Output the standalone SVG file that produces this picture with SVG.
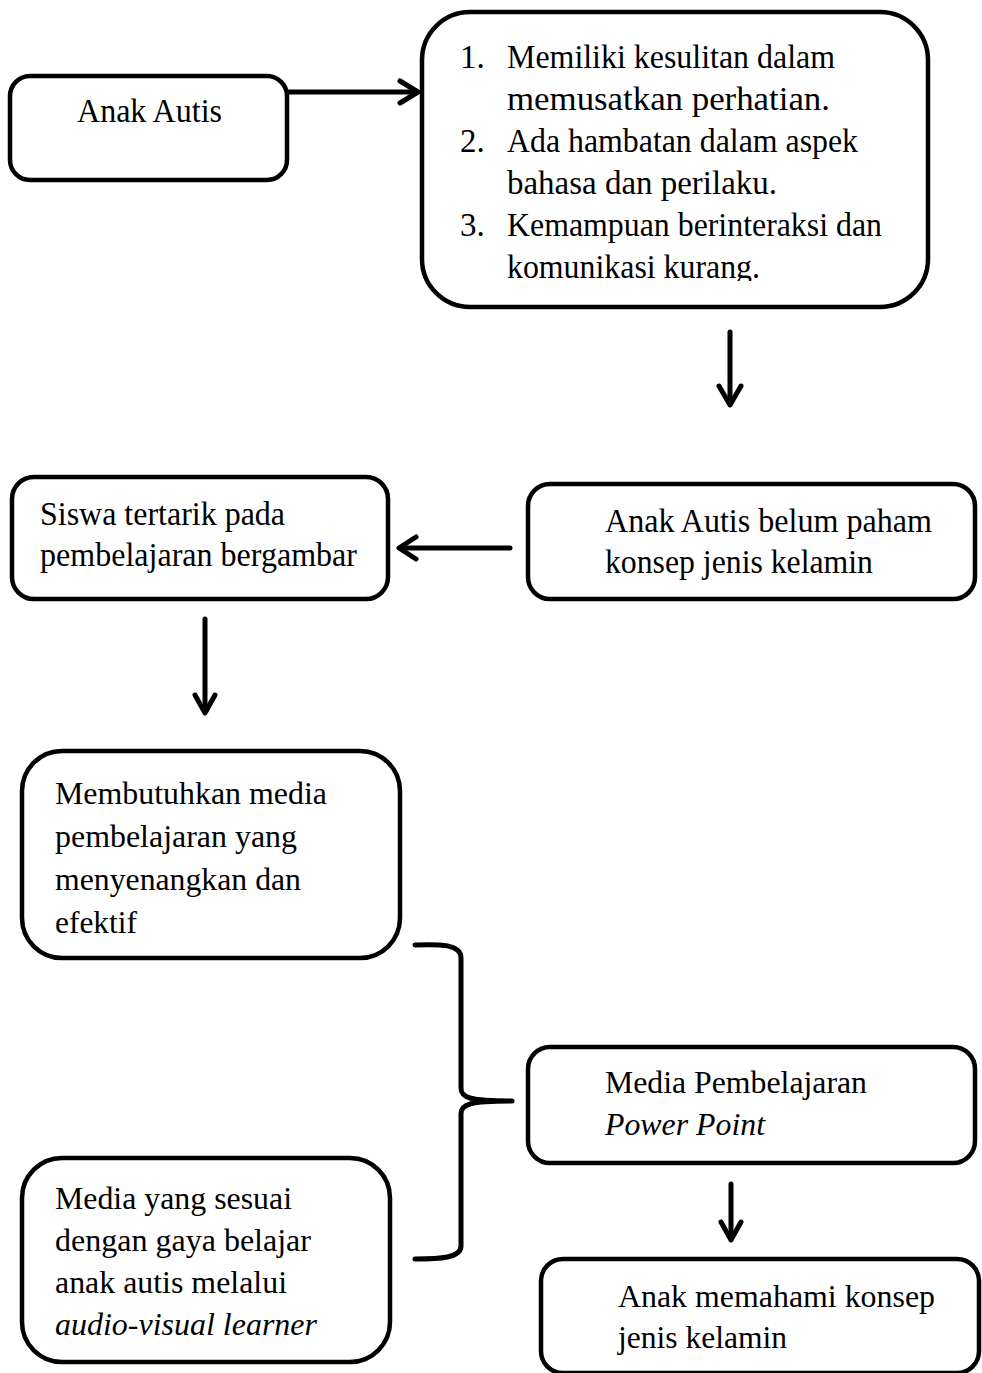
<svg xmlns="http://www.w3.org/2000/svg" width="982" height="1373" viewBox="0 0 982 1373">
<style>
.box{fill:#fff;stroke:#000;stroke-width:4.5}
.c{fill:none;stroke:#000;stroke-width:5;stroke-linecap:round;stroke-linejoin:round}
text{fill:#000}
.t{font-size:33px}
.b{font-size:31px}
.i{font-style:italic}
</style>
<defs>
<clipPath id="clip2"><rect x="420" y="0" width="520" height="281"/></clipPath>
</defs>
<rect width="982" height="1373" fill="#fff"/>
<g id="connectors">
<line class="c" x1="288" y1="92" x2="416" y2="92"/>
<path class="c" d="M400,81 L418,92 L400,103"/>
<line class="c" x1="730" y1="332" x2="730" y2="403"/>
<path class="c" d="M719,386 L730,405 L741,386"/>
<line class="c" x1="510" y1="548" x2="401" y2="548"/>
<path class="c" d="M416,537 L399,548 L416,559"/>
<line class="c" x1="205" y1="619" x2="205" y2="711"/>
<path class="c" d="M195,695 L205,713 L215,695"/>
<path class="c" d="M415,945 C440,944 461,944 461,958 L461,1088 C461,1098 470,1101 512,1101 C470,1101 461,1104 461,1114 L461,1246 C461,1258 440,1259 415,1259"/>
<line class="c" x1="731" y1="1184" x2="731" y2="1238"/>
<path class="c" d="M721,1222 L731,1240 L741,1222"/>
</g>
<g font-family="Liberation Serif, Times New Roman, Tinos, serif">
<g id="n1">
<rect class="box" x="10" y="76" width="277" height="104" rx="20"/>
<text class="t" x="77" y="122" textLength="145" lengthAdjust="spacingAndGlyphs">Anak Autis</text>
</g>
<g id="n2">
<rect class="box" x="422" y="12" width="506" height="295" rx="48"/>
<g clip-path="url(#clip2)">
<text class="t" x="460" y="68">1.</text>
<text class="t" x="507" y="68" textLength="328" lengthAdjust="spacingAndGlyphs">Memiliki kesulitan dalam</text>
<text class="t" x="507" y="110" textLength="323" lengthAdjust="spacingAndGlyphs">memusatkan perhatian.</text>
<text class="t" x="460" y="152">2.</text>
<text class="t" x="507" y="152" textLength="351" lengthAdjust="spacingAndGlyphs">Ada hambatan dalam aspek</text>
<text class="t" x="507" y="194" textLength="270" lengthAdjust="spacingAndGlyphs">bahasa dan perilaku.</text>
<text class="t" x="460" y="236">3.</text>
<text class="t" x="507" y="236" textLength="375" lengthAdjust="spacingAndGlyphs">Kemampuan berinteraksi dan</text>
<text class="t" x="507" y="278" textLength="253" lengthAdjust="spacingAndGlyphs">komunikasi kurang.</text>
</g>
</g>
<g id="n3">
<rect class="box" x="528" y="484" width="447" height="115" rx="22"/>
<text class="t" x="605" y="532" textLength="327" lengthAdjust="spacingAndGlyphs">Anak Autis belum paham</text>
<text class="t" x="605" y="573" textLength="268" lengthAdjust="spacingAndGlyphs">konsep jenis kelamin</text>
</g>
<g id="n4">
<rect class="box" x="12" y="477" width="376" height="122" rx="22"/>
<text class="t" x="40" y="525" textLength="245" lengthAdjust="spacingAndGlyphs">Siswa tertarik pada</text>
<text class="t" x="40" y="566" textLength="317" lengthAdjust="spacingAndGlyphs">pembelajaran bergambar</text>
</g>
<g id="n5">
<rect class="box" x="22" y="751" width="378" height="207" rx="40"/>
<text class="b" x="55" y="804" textLength="272" lengthAdjust="spacingAndGlyphs">Membutuhkan media</text>
<text class="b" x="55" y="847" textLength="242" lengthAdjust="spacingAndGlyphs">pembelajaran yang</text>
<text class="b" x="55" y="890" textLength="246" lengthAdjust="spacingAndGlyphs">menyenangkan dan</text>
<text class="b" x="55" y="933" textLength="82" lengthAdjust="spacingAndGlyphs">efektif</text>
</g>
<g id="n6">
<rect class="box" x="22" y="1158" width="368" height="204" rx="40"/>
<text class="b" x="55" y="1209" textLength="237" lengthAdjust="spacingAndGlyphs">Media yang sesuai</text>
<text class="b" x="55" y="1251" textLength="256" lengthAdjust="spacingAndGlyphs">dengan gaya belajar</text>
<text class="b" x="55" y="1293" textLength="232" lengthAdjust="spacingAndGlyphs">anak autis melalui</text>
<text class="b i" x="55" y="1335" textLength="262" lengthAdjust="spacingAndGlyphs">audio-visual learner</text>
</g>
<g id="n7">
<rect class="box" x="528" y="1047" width="447" height="116" rx="22"/>
<text class="b" x="605" y="1093" textLength="262" lengthAdjust="spacingAndGlyphs">Media Pembelajaran</text>
<text class="b i" x="605" y="1135" textLength="160" lengthAdjust="spacingAndGlyphs">Power Point</text>
</g>
<g id="n8">
<rect class="box" x="541" y="1259" width="438" height="114" rx="22"/>
<text class="b" x="618" y="1307" textLength="317" lengthAdjust="spacingAndGlyphs">Anak memahami konsep</text>
<text class="b" x="618" y="1348" textLength="169" lengthAdjust="spacingAndGlyphs">jenis kelamin</text>
</g>
</g>
</svg>
